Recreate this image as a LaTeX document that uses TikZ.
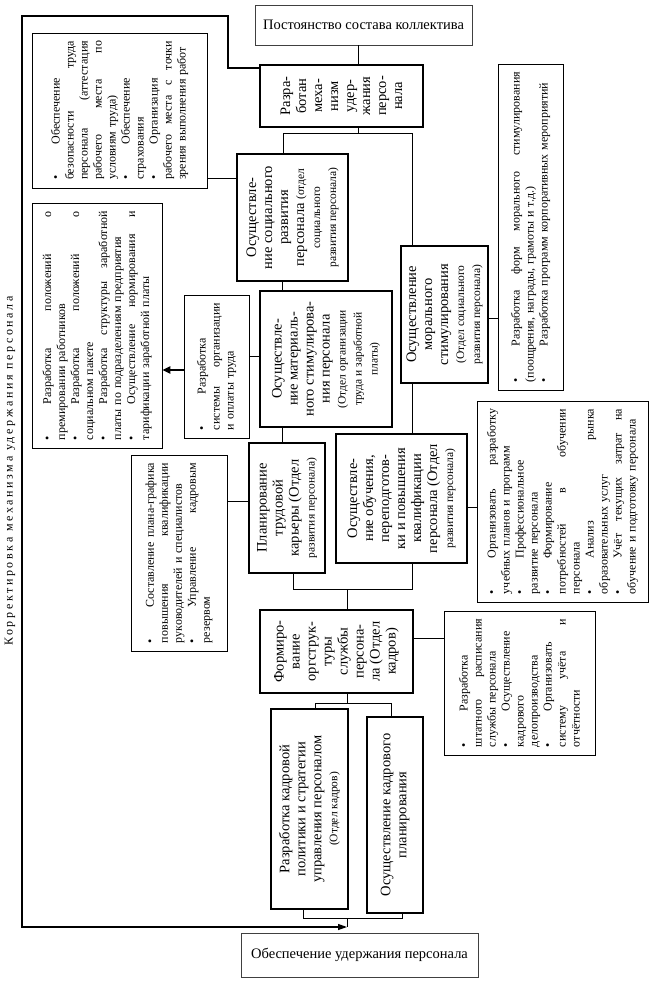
\documentclass[tikz,border=0pt]{standalone}
\usepackage{fontspec}
\setmainfont{Liberation Serif}
\newfontfamily\spacedfont[LetterSpace=22]{Liberation Serif}
\usetikzlibrary{arrows.meta}

\newcommand{\mtxt}{\fontsize{14.5}{16}\selectfont}
\newcommand{\smtxt}{\fontsize{11.5}{12.5}\selectfont}
\newcommand{\ltxt}{\fontsize{12}{14}\selectfont}
\newcommand{\jl}[1]{{\spaceskip=0.25em plus 20em\relax\makebox[\linewidth][s]{#1}}}
\newcommand{\bl}{\textbullet\hspace{2.6em}}

\begin{document}
\begin{tikzpicture}[x=1pt, y=-1pt,
    mainbox/.style={draw, line width=2.5pt, rotate=90, align=center, font=\mtxt, inner sep=2pt},
    listbox/.style={draw, line width=0.8pt, rotate=90, align=left, font=\ltxt, inner sep=3pt},
    endbox/.style={draw=black!75, line width=0.8pt, font=\mtxt, minimum height=40pt},
    link/.style={line width=0.8pt},
    sz/.style 2 args={minimum width=#2pt, minimum height=#1pt},
    lw/.style={text width=#1pt}]
    \useasboundingbox (0,0) rectangle (650,981);

    % Начало и результат
    \node[endbox, minimum width=217pt] (top) at (363.5,25) {Постоянство состава коллектива};
    \node[endbox, minimum width=237pt, minimum height=44pt] (goal) at (359.5,955) {Обеспечение удержания персонала};

    % Основные блоки
    \node[mainbox, sz={163}{62}] (mech) at (341.5,96) {Разра-\\ботан\\меха-\\низм\\удер-\\жания\\персо-\\нала};
    \node[mainbox, sz={111}{127}] (soc) at (292.5,217.5) {Осуществле-\\ние социального\\развития\\персонала {\smtxt(отдел}\\{\smtxt социального}\\{\smtxt развития персонала)}};
    \node[mainbox, sz={87}{137}] (moral) at (444.5,314.5) {Осуществление\\морального\\стимулирования\\{\smtxt(Отдел социального}\\{\smtxt развития персонала)}};
    \node[mainbox, sz={132}{136}] (mat) at (326,359) {Осуществле-\\ние материаль-\\ного стимулирова-\\ния персонала\\{\smtxt(Отдел организации}\\{\smtxt труда и заработной}\\{\smtxt платы)}};
    \node[mainbox, sz={76}{130}] (plan) at (287,508) {Планирование\\трудовой\\карьеры (Отдел\\{\smtxt развития персонала)}};
    \node[mainbox, sz={131}{129}] (educ) at (401.5,498.5) {Осуществле-\\ние обучения,\\переподготов-\\ки и повышения\\квалификации\\персонала (Отдел\\{\smtxt развития персонала)}};
    \node[mainbox, sz={153}{83}] (struct) at (336.5,651.5) {Формиро-\\вание\\оргструк-\\туры\\службы\\персона-\\ла (Отдел\\кадров)};
    \node[mainbox, sz={77}{200}] (policy) at (309.5,809) {Разработка кадровой\\политики и стратегии\\управления персоналом\\{\smtxt(Отдел кадров)}};
    \node[mainbox, sz={56}{196}] (kplan) at (395,815) {Осуществление кадрового\\планирования};

    % Перечни мероприятий
    \node[listbox, sz={175}{155}, lw=139] (safety) at (119.5,110.5) {\bl Обеспечение\\
        \jl{безопасности труда}\\
        \jl{персонала (аттестация}\\
        \jl{рабочего места по}\\
        условиям труда)\\
        \bl Обеспечение\\
        страхования\\
        \bl Организация\\
        \jl{рабочего места с точки}\\
        зрения выполнения работ};
    \node[listbox, sz={130}{245}, lw=229] (pay) at (97,325.5) {\jl{\bl Разработка положений о}\\
        премировании работников\\
        \jl{\bl Разработка положений о}\\
        социальном пакете\\
        \jl{\bl Разработка структуры заработной}\\
        платы по подразделениям предприятия\\
        \jl{\bl Осуществление нормирования и}\\
        тарификации заработной платы};
    \node[listbox, sz={65}{143}, lw=127] (sys) at (216.5,366.5) {\bl Разработка\\
        \jl{системы организации}\\
        и оплаты труда};
    \node[listbox, sz={96}{196}, lw=180] (career) at (179,553) {\jl{\bl Составление плана-графика}\\
        \jl{повышения квалификации}\\
        руководителей и специалистов\\
        \jl{\bl Управление кадровым}\\
        резервом};
    \node[listbox, sz={65}{326}, lw=310] (morlist) at (530.5,227) {\jl{\bl Разработка форм морального стимулирования}\\
        (поощрения, награды, грамоты и т.д.)\\
        \bl Разработка программ корпоративных мероприятий};
    \node[listbox, sz={171}{201}, lw=185] (edlist) at (562.5,501.5) {\jl{\bl Организовать разработку}\\
        учебных планов и программ\\
        \bl Профессиональное\\
        развитие персонала\\
        \bl Формирование\\
        \jl{потребностей в обучении}\\
        персонала\\
        \jl{\bl Анализ рынка}\\
        образовательных услуг\\
        \jl{\bl Учёт текущих затрат на}\\
        обучение и подготовку персонала};
    \node[listbox, sz={151}{144}, lw=128] (staff) at (519.5,683) {\bl Разработка\\
        \jl{штатного расписания}\\
        службы персонала\\
        \bl Осуществление\\
        кадрового\\
        делопроизводства\\
        \bl Организовать\\
        \jl{систему учёта и}\\
        отчётности};

    \node[rotate=90, font=\spacedfont\ltxt] (corr) at (10,471) {Корректировка механизма удержания персонала};

    % Связи
    \draw[link] (top.south -| 358,0) -- (mech.east -| 358,0);
    \draw[link] (mech.west -| 358,0) -- (358,133);
    \draw[link] (soc.east -| 283,0) -- (283,133) -- (412,133) -- (moral.east -| 412,0);
    \draw[link] (soc.north |- 0,178) -- (safety.south |- 0,178);
    \draw[link] (soc.west -| 282,0) -- (mat.east -| 282,0);
    \draw[link] (mat.north |- 0,356) -- (sys.south |- 0,356);
    \draw[line width=2pt, -{Triangle[length=8pt, width=7pt]}] (sys.north |- 0,370) -- (pay.south |- 0,370);
    \draw[link] (mat.west -| 282,0) -- (plan.east -| 282,0);
    \draw[link] (plan.north |- 0,501) -- (career.south |- 0,501);
    \draw[link] (moral.west -| 412,0) -- (educ.east -| 412,0);
    \draw[link] (moral.south |- 0,318) -- (morlist.north |- 0,318);
    \draw[link] (educ.south |- 0,507) -- (edlist.north |- 0,507);
    \draw[link] (plan.west -| 293,0) |- (412,589) -- (educ.west -| 412,0);
    \draw[link] (347,589) -- (struct.east -| 347,0);
    \draw[link] (struct.south |- 0,638) -- (staff.north |- 0,638);
    \draw[link] (struct.west -| 347,0) -- (347,703);
    \draw[link] (policy.east -| 315,0) -- (315,703) -- (391,703) -- (kplan.east -| 391,0);
    \draw[link] (policy.west -| 303,0) -- (303,918) -- (402,918) -- (kplan.west -| 402,0);
    \coordinate (back) at (347,927);
    \draw[link] (347,918) -- (back);
    % Обратная связь
    \draw[line width=1.2pt, -{Triangle[length=9pt, width=6pt]}] (mech.north |- 0,68) -- (228,68) -- (228,16) -- (22,16) -- (22,927) -- (back);
\end{tikzpicture}
\end{document}
